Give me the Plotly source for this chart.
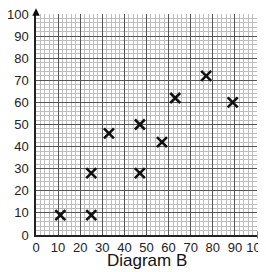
import plotly.graph_objects as go

x_vals = [11, 25, 25, 33, 47, 47, 57, 63, 77, 89]
y_vals = [9, 9, 28, 46, 28, 50, 42, 62, 72, 60]
tick_vals = [0, 10, 20, 30, 40, 50, 60, 70, 80, 90, 100]
x_title = "Diagram B"

fig = go.Figure()
fig.add_trace(go.Scatter(
    x=x_vals, y=y_vals, mode="markers",
    marker=dict(symbol="x-thin", size=10, line=dict(width=2.6, color="#111")),
    cliponaxis=False, showlegend=False,
))

font = dict(family="Liberation Sans, Arial, sans-serif", size=13, color="#222")
axis_common = dict(
    range=[0, 100], tickvals=tick_vals, ticktext=[str(v) for v in tick_vals],
    showgrid=True, gridcolor="#555", gridwidth=1,
    minor=dict(dtick=2, showgrid=True, gridcolor="#bdbdbd", gridwidth=1),
    zeroline=False, showline=True, linecolor="#222", linewidth=1.5,
    ticks="", tickfont=font, mirror=False, fixedrange=True, automargin=False,
    ticklabeloverflow="allow",
)
fig.update_xaxes(**axis_common, ticklabelstandoff=0)
fig.update_yaxes(**axis_common, ticklabelstandoff=3)

# axis title
fig.add_annotation(x=0.5, y=0, xref="paper", yref="paper", yshift=-14, yanchor="top",
                   text=x_title, showarrow=False,
                   font=dict(family=font["family"], size=17, color="#111"))

# axis arrows
fig.add_annotation(x=0, y=102.6, ax=0, ay=99, xref="x", yref="y", axref="x", ayref="y",
                   showarrow=True, arrowhead=2, arrowsize=1, arrowwidth=1.5, arrowcolor="#111", text="")
fig.add_annotation(x=103.6, y=0, ax=100, ay=0, xref="x", yref="y", axref="x", ayref="y",
                   showarrow=True, arrowhead=2, arrowsize=1, arrowwidth=1.5, arrowcolor="#111", text="")

fig.update_layout(
    width=258, height=264,
    margin=dict(l=28, r=9, t=6, b=37, autoexpand=False),
    plot_bgcolor="white", paper_bgcolor="white",
)
fig.write_html("out.html")
